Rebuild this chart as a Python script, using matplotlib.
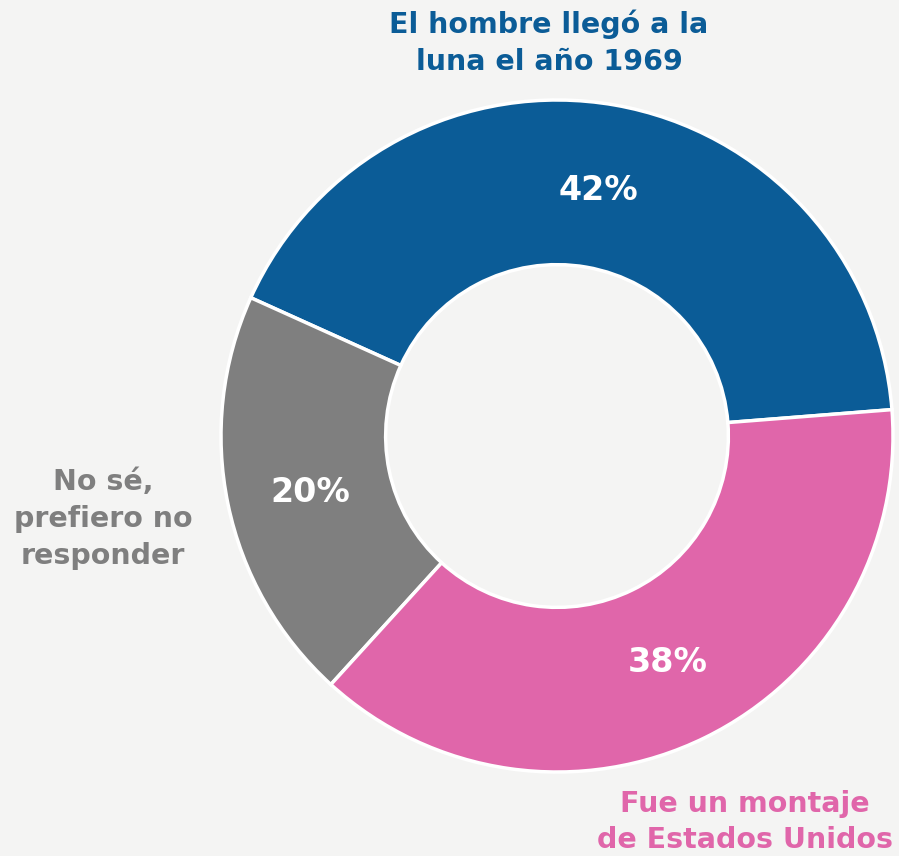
import matplotlib.pyplot as plt

labels = ['El hombre llegó a la\nluna el año 1969', 'No sé,\nprefiero no\nresponder',
          'Fue un montaje\nde Estados Unidos']
values = [42, 20, 38]
colors = ['#0B5C97', '#7F7F7F', '#E066AA']

W, H = 899, 856
bg = '#F4F4F3'
font = 'DejaVu Sans'

fig = plt.figure(figsize=(W / 100, H / 100), dpi=100, facecolor=bg)
ax = fig.add_axes([0, 0, 1, 1])

cx, cy, r = 557, H - 436, 336
ax.pie(values, colors=colors, startangle=4.5, counterclock=True,
       center=(cx, cy), radius=r, frame=True,
       wedgeprops=dict(width=r * 0.49, edgecolor='white', linewidth=2.5))
ax.set_xlim(0, W)
ax.set_ylim(0, H)
ax.set_aspect('equal')
ax.axis('off')

# percentages inside the ring
pct_pos = [(598, 190), (310, 492), (668, 663)]
for v, (x, y) in zip(values, pct_pos):
    ax.text(x, H - y, f'{v}%', color='white', fontsize=24, fontweight='bold',
            family=font, ha='center', va='center')

# category names outside the ring
name_pos = [(549, 43), (103, 519), (745, 822)]
for lab, col, (x, y) in zip(labels, colors, name_pos):
    ax.text(x, H - y, lab, color=col, fontsize=20.5, fontweight='bold', family=font,
            ha='center', va='center', linespacing=1.4)

fig.savefig('out.png', dpi=100, facecolor=bg)
